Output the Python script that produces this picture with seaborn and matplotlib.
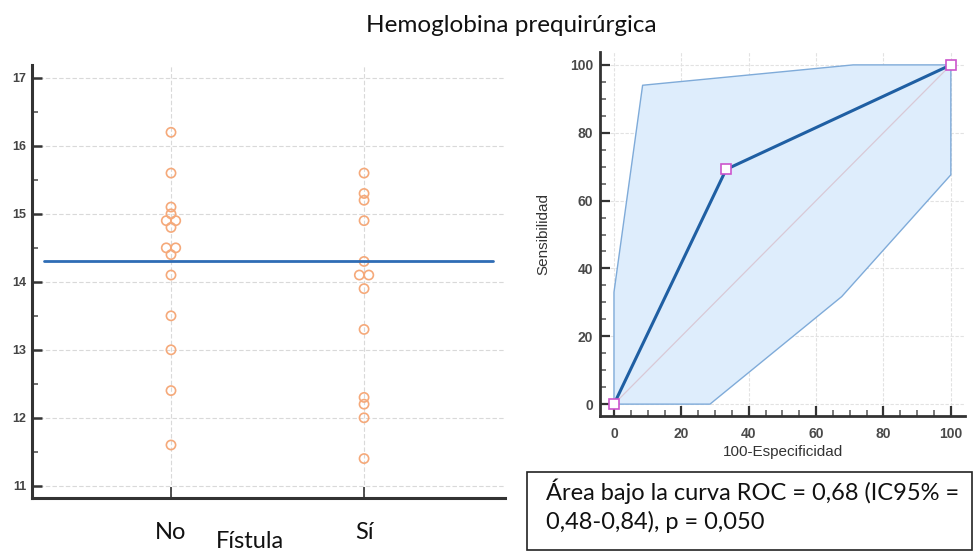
import numpy as np
import pandas as pd
import seaborn as sns
import matplotlib
matplotlib.use("Agg")
import matplotlib.pyplot as plt
from matplotlib.patches import Rectangle
from matplotlib.ticker import MultipleLocator

# Preoperative hemoglobin (g/dL) by fistula group
groups = ["No", "Sí"]
hb_no = [16.2, 15.6, 15.1, 15.0, 14.9, 14.9, 14.8, 14.5, 14.5, 14.4, 14.1, 13.5, 13.0, 12.4, 11.6]
hb_si = [15.6, 15.3, 15.2, 14.9, 14.3, 14.1, 14.1, 13.9, 13.3, 12.3, 12.2, 12.0, 11.4]
cutoff = 14.3

# ROC curve (100-specificity vs sensitivity) and its 95% confidence band
roc_fpr = [0, 33.3, 100]
roc_tpr = [0, 69.2, 100]
band_upper_x = [0, 0, 8.5, 71, 100]
band_upper_y = [0, 33, 94, 100, 100]
band_lower_x = [100, 100, 67.6, 28.5, 0]
band_lower_y = [100, 67.6, 31.7, 0, 0]

title_text = "Hemoglobina prequirúrgica"
auc_text = "Área bajo la curva ROC = 0,68 (IC95% =\n0,48-0,84), p = 0,050"

sns.set_theme(style="white")
plt.rcParams["font.family"] = ["Liberation Sans", "DejaVu Sans"]
calibri_like = ["Lato", "DejaVu Sans"]

W, H = 974, 553
fig = plt.figure(figsize=(W / 100, H / 100), dpi=100)


def fx(px):
    return px / W


def fy(py):
    return 1 - py / H


# ---------------- left panel: dot plot ----------------
axl = fig.add_axes([fx(32), fy(498), fx(505) - fx(32), fy(65) - fy(498)])

# tied values sit side by side, centred on their group
dodge_step = 0.049
rows = []
for gi, (g, vals) in enumerate(zip(groups, [hb_no, hb_si])):
    s = pd.Series(vals)
    rank = s.groupby(s).cumcount()
    count = s.groupby(s).transform("size")
    for v, r, n in zip(s, rank, count):
        rows.append({"Fístula": g, "pos": gi + (r - (n - 1) / 2) * dodge_step, "Hb": v})
df = pd.DataFrame(rows)

orange = "#f5a97a"
sns.scatterplot(data=df, x="pos", y="Hb", ax=axl, s=44, marker="o",
                facecolor="none", edgecolor=orange, linewidth=1.2, zorder=3)

axl.set_xlim(-0.72, 1.73)
axl.set_ylim(10.82, 17.19)
axl.plot([-0.66, 1.67], [cutoff, cutoff], color="#2f6db5", lw=2.0, zorder=4)

axl.set_xticks(range(len(groups)))
axl.set_xticklabels(groups, family=calibri_like, fontsize=17, color="#111111")
axl.yaxis.set_major_locator(MultipleLocator(1))
axl.yaxis.set_minor_locator(MultipleLocator(0.5))
axl.grid(True, which="major", color="#d9d9d9", lw=0.8, ls=(0, (4, 2)))
for s in ["top", "right"]:
    axl.spines[s].set_visible(False)
for s in ["left", "bottom"]:
    axl.spines[s].set_color("#333333")
    axl.spines[s].set_linewidth(2.2)
axl.tick_params(axis="y", which="major", direction="in", length=7, width=1.8,
                color="#333333", labelsize=9, labelcolor="#444444", pad=4, left=True)
axl.tick_params(axis="y", which="minor", direction="in", length=4, width=1.2,
                color="#555555", left=True)
axl.tick_params(axis="x", which="major", direction="in", length=8, width=1.2,
                color="#333333", bottom=True, pad=17)
for lab in axl.get_yticklabels():
    lab.set_fontweight("bold")
axl.set_xlabel("")
axl.set_ylabel("")

fig.text(fx(250), fy(542), "Fístula", ha="center", va="center",
         fontsize=17, family=calibri_like, color="#111111")

fig.text(fx(511), fy(25), title_text, ha="center", va="center",
         fontsize=17.5, family=calibri_like, color="#111111")

# ---------------- right panel: ROC curve ----------------
axr = fig.add_axes([fx(600), fy(416), fx(965) - fx(600), fy(52) - fy(416)])
axr.set_xlim(-4.15, 104.2)
axr.set_ylim(-3.5, 103.8)

poly_x = band_upper_x + band_lower_x
poly_y = band_upper_y + band_lower_y
axr.fill(poly_x, poly_y, facecolor="#deedfc", edgecolor="none", zorder=1)
axr.plot(band_upper_x, band_upper_y, color="#7fabd9", lw=1.0, zorder=2)
axr.plot(band_lower_x, band_lower_y, color="#7fabd9", lw=1.0, zorder=2)
axr.plot([0, 100], [0, 100], color="#d9c9d6", lw=0.9, zorder=2)

roc_df = pd.DataFrame({"fpr": roc_fpr, "tpr": roc_tpr})
sns.lineplot(data=roc_df, x="fpr", y="tpr", ax=axr, color="#1f5fa3", lw=2.2,
             marker="s", markersize=6.5, markerfacecolor="white",
             markeredgecolor="#cc55cc", markeredgewidth=1.2, sort=False, zorder=5)

axr.xaxis.set_major_locator(MultipleLocator(20))
axr.xaxis.set_minor_locator(MultipleLocator(5))
axr.yaxis.set_major_locator(MultipleLocator(20))
axr.yaxis.set_minor_locator(MultipleLocator(5))
axr.grid(True, which="major", color="#e2e2e2", lw=0.8, ls=(0, (3, 1.5)))
axr.set_axisbelow(True)
for s in ["top", "right"]:
    axr.spines[s].set_visible(False)
for s in ["left", "bottom"]:
    axr.spines[s].set_color("#333333")
    axr.spines[s].set_linewidth(2.0)
axr.tick_params(which="major", direction="in", length=7, width=1.6, color="#333333",
                labelsize=10, labelcolor="#4a4a4a", left=True, bottom=True)
axr.tick_params(which="minor", direction="in", length=4, width=1.1, color="#555555",
                left=True, bottom=True)
axr.tick_params(axis="y", pad=5)
axr.tick_params(axis="x", pad=8)
for lab in axr.get_xticklabels() + axr.get_yticklabels():
    lab.set_fontweight("bold")
axr.set_xlabel("100-Especificidad", fontsize=11, color="#333333", labelpad=3)
axr.set_ylabel("Sensibilidad", fontsize=11, color="#333333", labelpad=14)

# AUC summary box
fig.patches.append(Rectangle((fx(527), fy(550)), fx(972) - fx(527), fy(472) - fy(550),
                             transform=fig.transFigure, facecolor="white",
                             edgecolor="#222222", lw=1.2))
fig.text(fx(546), fy(506), auc_text, ha="left", va="center", fontsize=17,
         family=calibri_like, color="#111111", linespacing=1.4)

fig.savefig("out.png", dpi=100)
